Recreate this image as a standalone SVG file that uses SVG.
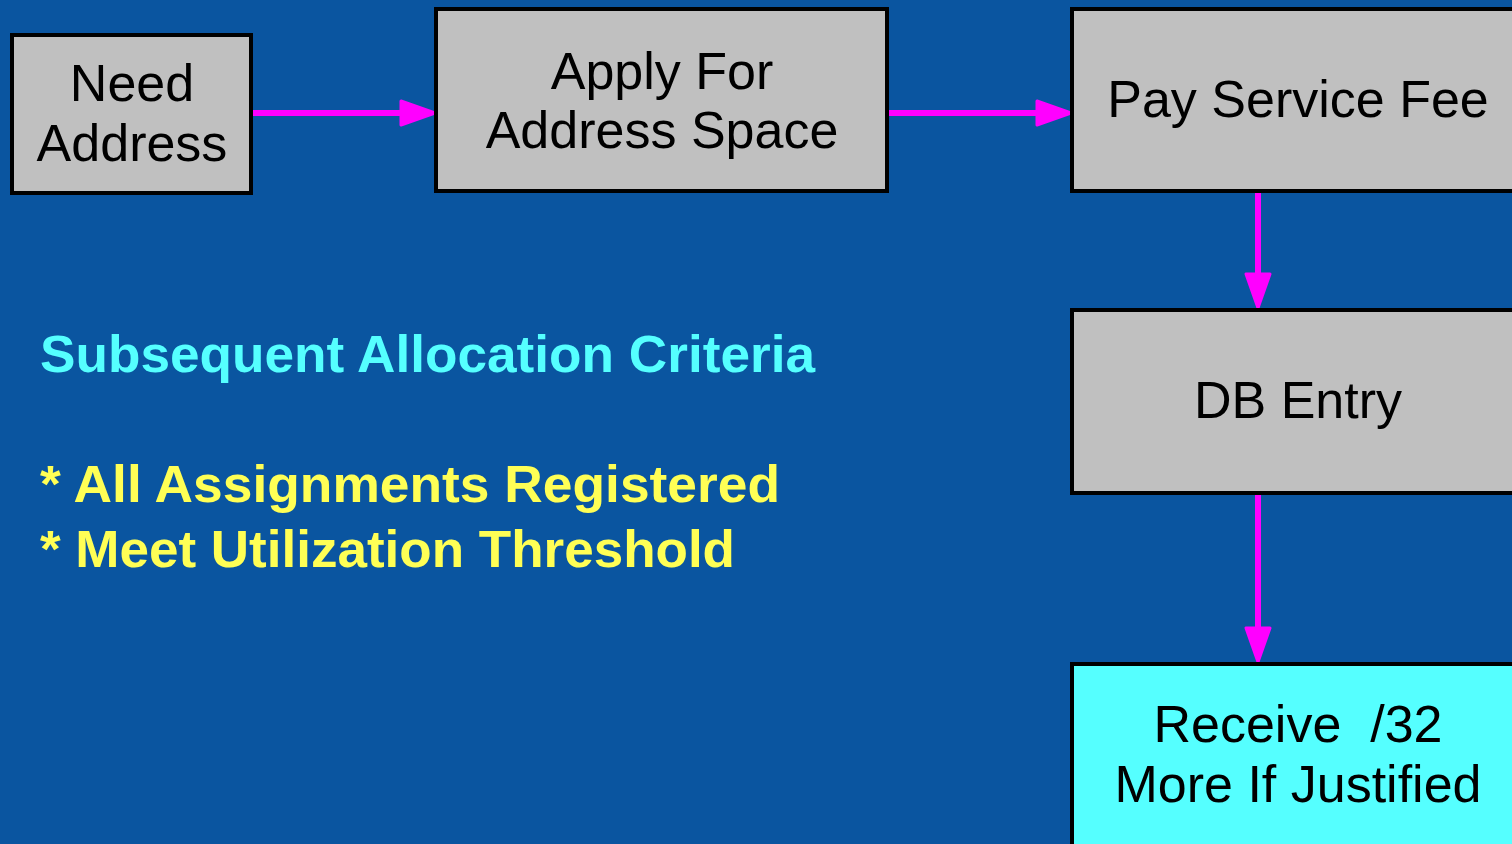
<svg xmlns="http://www.w3.org/2000/svg" width="1512" height="844" viewBox="0 0 1512 844">
  <style>
    .box { fill: #c0c0c0; stroke: #000; stroke-width: 4; }
    .final { fill: #55ffff; stroke: #000; stroke-width: 4; }
    .lbl { font-family: "Liberation Sans", Arial, sans-serif; font-size: 52px; fill: #000; text-anchor: middle; }
    .head { font-family: "Liberation Sans", Arial, sans-serif; font-weight: bold; font-size: 52px; fill: #55ffff; }
    .item { font-family: "Liberation Sans", Arial, sans-serif; font-weight: bold; font-size: 52px; fill: #ffff55; }
    .flow { stroke: #ff00ff; stroke-width: 6; stroke-linecap: round; fill: none; }
  </style>
  <defs>
    <!-- filled arrowhead, 36 long and 26 wide, tip 8px past the line end -->
    <marker id="arrow" viewBox="0 0 38 28" refX="29" refY="14" markerWidth="38" markerHeight="28" markerUnits="userSpaceOnUse" orient="auto">
      <path d="M2,2 L36,14 L2,26 Z" fill="#ff00ff" stroke="#ff00ff" stroke-width="3" stroke-linejoin="round"/>
    </marker>
  </defs>

  <rect width="1512" height="844" fill="#0a55a0"/>

  <g id="connectors">
    <line class="flow" x1="250" y1="113" x2="428" y2="113" marker-end="url(#arrow)"/>
    <line class="flow" x1="887" y1="113" x2="1064" y2="113" marker-end="url(#arrow)"/>
    <line class="flow" x1="1258" y1="192" x2="1258" y2="301" marker-end="url(#arrow)"/>
    <line class="flow" x1="1258" y1="494" x2="1258" y2="655" marker-end="url(#arrow)"/>
  </g>

  <g id="need-address">
    <rect class="box" x="12" y="35" width="239" height="158"/>
    <text class="lbl" x="132" y="101">Need</text>
    <text class="lbl" x="132" y="161">Address</text>
  </g>

  <g id="apply">
    <rect class="box" x="436" y="9" width="451" height="182"/>
    <text class="lbl" x="662" y="89">Apply For</text>
    <text class="lbl" x="662" y="148">Address Space</text>
  </g>

  <g id="pay-fee">
    <rect class="box" x="1072" y="9" width="460" height="182"/>
    <text class="lbl" x="1298" y="117">Pay Service Fee</text>
  </g>

  <g id="db-entry">
    <rect class="box" x="1072" y="310" width="460" height="183"/>
    <text class="lbl" x="1298" y="418">DB Entry</text>
  </g>

  <g id="receive">
    <rect class="final" x="1072" y="664" width="460" height="200"/>
    <text class="lbl" x="1298" y="742" xml:space="preserve">Receive  /32</text>
    <text class="lbl" x="1298" y="802">More If Justified</text>
  </g>

  <g id="criteria">
    <text class="head" x="40" y="372" textLength="775" lengthAdjust="spacingAndGlyphs">Subsequent Allocation Criteria</text>
    <text class="item" x="40" y="502" textLength="740" lengthAdjust="spacingAndGlyphs">* All Assignments Registered</text>
    <text class="item" x="40" y="567" textLength="695" lengthAdjust="spacingAndGlyphs">* Meet Utilization Threshold</text>
  </g>
</svg>
